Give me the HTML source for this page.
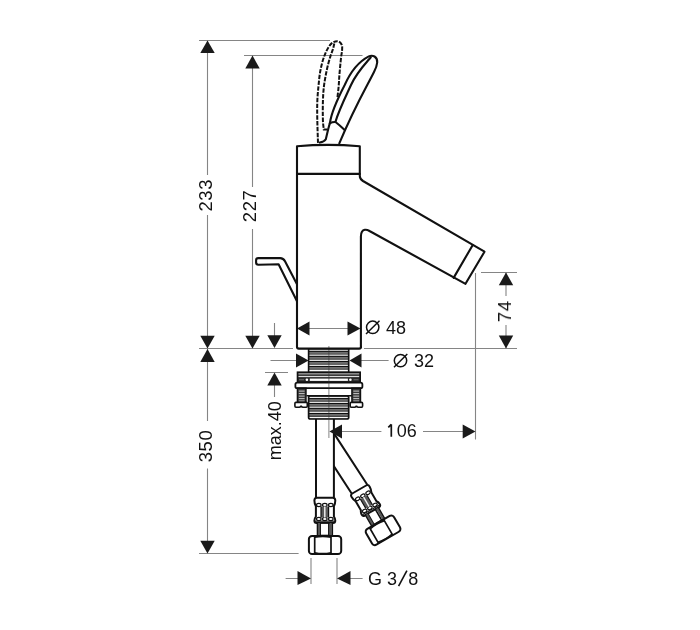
<!DOCTYPE html>
<html><head><meta charset="utf-8">
<style>
html,body{margin:0;padding:0;background:#fff;width:700px;height:630px;overflow:hidden}
svg{display:block}
text{font-family:"Liberation Sans",sans-serif;font-size:18px;fill:#111}
.tx{opacity:0.995}
.d{stroke:#858585;stroke-width:1.1;fill:none}
.o{stroke:#111;stroke-width:2.1;fill:none;stroke-linejoin:round;stroke-linecap:round}
.a{fill:#1a1a1a;stroke:none}
.ds{stroke:#111;stroke-width:2.0;fill:none;stroke-dasharray:4.4 1.4}
</style></head>
<body>
<svg width="700" height="630" viewBox="0 0 700 630">
<!-- hoses -->
<g transform="rotate(-33 325 436)"><path d="M316 436V500M333.9 436V500" stroke="#111" stroke-width="2"/></g>
<g transform="translate(359.2 489.5) rotate(-30) translate(-324.8 -497.7)">
<path d="M316.8 497.7H332.8Q335.3 497.7 335.3 500.5Q335.3 503.5 333.9 506.3V516.5Q335.3 518.5 335.3 520.5Q335.3 523 333 523H316.6Q314.4 523 314.4 520.5Q314.4 518.5 315.9 516.5V506.3Q314.4 503.5 314.4 500.5Q314.4 497.7 316.8 497.7Z" fill="#fff" stroke="#111" stroke-width="2"/>
<ellipse cx="318.8" cy="505" rx="2.3" ry="1.6" fill="#fff" stroke="#111" stroke-width="1.2"/>
<ellipse cx="318.8" cy="519" rx="2.3" ry="1.6" fill="#fff" stroke="#111" stroke-width="1.2"/>
<ellipse cx="324.8" cy="505" rx="2.3" ry="1.6" fill="#fff" stroke="#111" stroke-width="1.2"/>
<ellipse cx="324.8" cy="519" rx="2.3" ry="1.6" fill="#fff" stroke="#111" stroke-width="1.2"/>
<ellipse cx="330.8" cy="505" rx="2.3" ry="1.6" fill="#fff" stroke="#111" stroke-width="1.2"/>
<ellipse cx="330.8" cy="519" rx="2.3" ry="1.6" fill="#fff" stroke="#111" stroke-width="1.2"/>
<rect x="321" y="506.5" width="7.6" height="11" fill="#5a5a5a"/><rect x="324.1" y="506.5" width="1.4" height="11" fill="#f4f4f4"/><path d="M321 506.5V517.5M328.6 506.5V517.5" stroke="#111" stroke-width="1.2"/>
<path d="M315 521.2H334.7" stroke="#111" stroke-width="1.1"/>
<rect x="317.6" y="523" width="14.6" height="12.6" fill="#fff" stroke="#111" stroke-width="1.8"/>
<path d="M320.1 523V535.5M328.9 523V535.5" stroke="#111" stroke-width="1.7"/><rect x="318" y="523" width="2" height="12.6" fill="#555"/><rect x="329.7" y="523" width="2" height="12.6" fill="#555"/>
<rect x="308.9" y="535.9" width="32.3" height="18.2" rx="3.2" fill="#fff" stroke="#111" stroke-width="2"/>
<path d="M314.7 536V554M331 536V554" stroke="#111" stroke-width="1.7"/><path d="M314.7 537.4Q322.9 535.6 331 537.4M314.7 552.6Q322.9 554.4 331 552.6" stroke="#111" stroke-width="1.4" fill="none"/>
</g>
<g>
<rect x="316" y="419" width="17.9" height="79" fill="#fff"/>
<path d="M316 419V497.7M333.9 419V497.7" stroke="#111" stroke-width="2"/>
<path d="M316.8 497.7H332.8Q335.3 497.7 335.3 500.5Q335.3 503.5 333.9 506.3V516.5Q335.3 518.5 335.3 520.5Q335.3 523 333 523H316.6Q314.4 523 314.4 520.5Q314.4 518.5 315.9 516.5V506.3Q314.4 503.5 314.4 500.5Q314.4 497.7 316.8 497.7Z" fill="#fff" stroke="#111" stroke-width="2"/>
<ellipse cx="318.8" cy="505" rx="2.3" ry="1.6" fill="#fff" stroke="#111" stroke-width="1.2"/>
<ellipse cx="318.8" cy="519" rx="2.3" ry="1.6" fill="#fff" stroke="#111" stroke-width="1.2"/>
<ellipse cx="324.8" cy="505" rx="2.3" ry="1.6" fill="#fff" stroke="#111" stroke-width="1.2"/>
<ellipse cx="324.8" cy="519" rx="2.3" ry="1.6" fill="#fff" stroke="#111" stroke-width="1.2"/>
<ellipse cx="330.8" cy="505" rx="2.3" ry="1.6" fill="#fff" stroke="#111" stroke-width="1.2"/>
<ellipse cx="330.8" cy="519" rx="2.3" ry="1.6" fill="#fff" stroke="#111" stroke-width="1.2"/>
<rect x="321" y="506.5" width="7.6" height="11" fill="#5a5a5a"/><rect x="324.1" y="506.5" width="1.4" height="11" fill="#f4f4f4"/><path d="M321 506.5V517.5M328.6 506.5V517.5" stroke="#111" stroke-width="1.2"/>
<path d="M315 521.2H334.7" stroke="#111" stroke-width="1.1"/>
<rect x="317.6" y="523" width="14.6" height="12.6" fill="#fff" stroke="#111" stroke-width="1.8"/>
<path d="M320.1 523V535.5M328.9 523V535.5" stroke="#111" stroke-width="1.7"/><rect x="318" y="523" width="2" height="12.6" fill="#555"/><rect x="329.7" y="523" width="2" height="12.6" fill="#555"/>
<rect x="308.9" y="535.9" width="32.3" height="18.2" rx="3.2" fill="#fff" stroke="#111" stroke-width="2"/>
<path d="M314.7 536V554M331 536V554" stroke="#111" stroke-width="1.7"/><path d="M314.7 537.4Q322.9 535.6 331 537.4M314.7 552.6Q322.9 554.4 331 552.6" stroke="#111" stroke-width="1.4" fill="none"/>
</g>
<!-- thread -->
<g>
<rect x="308.6" y="348.5" width="40.1" height="23.4" fill="#6e6e6e"/>
<rect x="308.6" y="349.7" width="40.1" height="1.1" fill="#eee"/>
<rect x="308.6" y="350.9" width="40.1" height="1" fill="#111"/>
<rect x="308.6" y="353.8" width="40.1" height="0.8" fill="#333"/>
<rect x="308.6" y="354.7" width="40.1" height="1.1" fill="#eee"/>
<rect x="308.6" y="355.9" width="40.1" height="1" fill="#111"/>
<rect x="308.6" y="358.8" width="40.1" height="0.8" fill="#333"/>
<rect x="308.6" y="359.8" width="40.1" height="1.1" fill="#eee"/>
<rect x="308.6" y="361.0" width="40.1" height="1" fill="#111"/>
<rect x="308.6" y="363.90000000000003" width="40.1" height="0.8" fill="#333"/>
<rect x="308.6" y="364.8" width="40.1" height="1.1" fill="#eee"/>
<rect x="308.6" y="366.0" width="40.1" height="1" fill="#111"/>
<rect x="308.6" y="368.90000000000003" width="40.1" height="0.8" fill="#333"/>
<rect x="308.6" y="369.8" width="40.1" height="1.7" fill="#fafafa"/>
<path d="M308.6 348.5V372M348.7 348.5V372" stroke="#111" stroke-width="1.6"/>
<rect x="297.5" y="372.2" width="62.7" height="10.3" fill="#2a2a2a" stroke="#111" stroke-width="1.6"/>
<rect x="298.5" y="373" width="60.7" height="1.6" fill="#8a8a8a"/>
<rect x="298.5" y="375.9" width="60.7" height="1.2" fill="#ddd"/>
<rect x="309.8" y="378.6" width="38.1" height="2.3" fill="#fff"/>
<circle cx="306.9" cy="379.7" r="1.3" fill="#fff"/><circle cx="350.4" cy="379.7" r="1.3" fill="#fff"/>
<rect x="299" y="379.3" width="5" height="0.9" fill="#777"/><rect x="353.5" y="379.3" width="5" height="0.9" fill="#777"/>
<rect x="295.4" y="382.6" width="67" height="5.6" rx="1.8" fill="#fff" stroke="#111" stroke-width="1.8"/>
<rect x="297.4" y="388.2" width="8.6" height="14.2" fill="#3a3a3a" stroke="#111" stroke-width="1.4"/>
<rect x="298.79999999999995" y="390.6" width="5.8" height="1" fill="#c8c8c8"/>
<rect x="298.79999999999995" y="393.1" width="5.8" height="1" fill="#c8c8c8"/>
<rect x="298.79999999999995" y="395.6" width="5.8" height="1" fill="#c8c8c8"/>
<rect x="298.79999999999995" y="398.1" width="5.8" height="1" fill="#c8c8c8"/>
<rect x="298.79999999999995" y="400.5" width="5.8" height="1" fill="#c8c8c8"/>
<rect x="351.9" y="388.2" width="8.6" height="14.2" fill="#3a3a3a" stroke="#111" stroke-width="1.4"/>
<rect x="353.29999999999995" y="390.6" width="5.8" height="1" fill="#c8c8c8"/>
<rect x="353.29999999999995" y="393.1" width="5.8" height="1" fill="#c8c8c8"/>
<rect x="353.29999999999995" y="395.6" width="5.8" height="1" fill="#c8c8c8"/>
<rect x="353.29999999999995" y="398.1" width="5.8" height="1" fill="#c8c8c8"/>
<rect x="353.29999999999995" y="400.5" width="5.8" height="1" fill="#c8c8c8"/>
<path d="M306.4 395.8H351.9" stroke="#111" stroke-width="1.6"/>
<rect x="308.6" y="395.8" width="40.1" height="23.2" rx="1.5" fill="#6e6e6e"/>
<rect x="308.6" y="396.9" width="40.1" height="1.1" fill="#eee"/>
<rect x="308.6" y="398.09999999999997" width="40.1" height="1" fill="#111"/>
<rect x="308.6" y="400.9" width="40.1" height="0.8" fill="#333"/>
<rect x="308.6" y="401.8" width="40.1" height="1.1" fill="#eee"/>
<rect x="308.6" y="403.0" width="40.1" height="1" fill="#111"/>
<rect x="308.6" y="405.8" width="40.1" height="0.8" fill="#333"/>
<rect x="308.6" y="406.7" width="40.1" height="1.1" fill="#eee"/>
<rect x="308.6" y="407.9" width="40.1" height="1" fill="#111"/>
<rect x="308.6" y="410.7" width="40.1" height="0.8" fill="#333"/>
<rect x="308.6" y="411.8" width="40.1" height="1.1" fill="#eee"/>
<rect x="308.6" y="413.0" width="40.1" height="1" fill="#111"/>
<rect x="308.6" y="415.8" width="40.1" height="0.8" fill="#333"/>
<rect x="308.6" y="417" width="40.1" height="1.3" fill="#fafafa"/>
<rect x="308.6" y="395.8" width="40.1" height="23.2" rx="1.8" fill="none" stroke="#111" stroke-width="1.7"/>
<path d="M295.9 402.4H306.29999999999995Q307.29999999999995 402.4 307.29999999999995 403.6V406.1Q307.29999999999995 407.2 306.29999999999995 407.2H302.9Q301.09999999999997 407.2 301.09999999999997 405.6Q301.09999999999997 407.2 299.29999999999995 407.2H295.9Q294.9 407.2 294.9 406.1V403.6Q294.9 402.4 295.9 402.4Z" fill="#fff" stroke="#111" stroke-width="1.6"/>
<path d="M351.2 402.4H361.59999999999997Q362.59999999999997 402.4 362.59999999999997 403.6V406.1Q362.59999999999997 407.2 361.59999999999997 407.2H358.2Q356.4 407.2 356.4 405.6Q356.4 407.2 354.59999999999997 407.2H351.2Q350.2 407.2 350.2 406.1V403.6Q350.2 402.4 351.2 402.4Z" fill="#fff" stroke="#111" stroke-width="1.6"/>

</g>
<path d="M328.9 346V438" stroke="#333" stroke-width="0.8" opacity="0.75"/>
<!-- dimension lines -->
<g class="d">
<path d="M199 40.5H330M244 55.5H362.5"/>
<path d="M207.5 41V175M207.5 215V348.5"/>
<path d="M252.5 56V187M252.5 229V348.5"/>
<path d="M199 348.5H293M364 348.5H517"/>
<path d="M481 272.5H517M506 272.5V296M506 325V348.5"/>
<path d="M475.5 273V439.5"/>
<path d="M274.5 323V336M265 372.5H288M274.5 385V397"/>
<path d="M309 328.5H348"/>
<path d="M270.5 360.5H297M361 360.5H388.6"/>
<path d="M342 431.5H381.4M423 431.5H463"/>
<path d="M207.5 349V421M207.5 468.5V541M199 553.5H298.6"/>
<path d="M311 558V584M337 558V584M285.6 578.5H298M350 578.5H362.6"/>
</g>
<!-- arrows -->
<g class="a">
<path d="M207.5 40.5L200.3 53L214.7 53Z"/>
<path d="M252.5 55.5L245.3 68.5L259.7 68.5Z"/>
<path d="M207.5 348.5L200.3 335.7L214.7 335.7Z"/>
<path d="M252.5 348.5L245.3 335.7L259.7 335.7Z"/>
<path d="M274.5 348L267.3 335.2L281.7 335.2Z"/>
<path d="M207.5 349L200.3 362L214.7 362Z"/>
<path d="M274.5 372.5L267.3 385.5L281.7 385.5Z"/>
<path d="M506 272.5L498.8 285.2L513.2 285.2Z"/>
<path d="M506 348.5L498.8 335.5L513.2 335.5Z"/>
<path d="M297 328.5L309.5 321.5L309.5 335.5Z"/>
<path d="M360.5 328.5L347.5 321.5L347.5 335.5Z"/>
<path d="M308.6 360.5L296 353.5L296 367.5Z"/>
<path d="M349.5 360.5L361.5 353.5L361.5 367.5Z"/>
<path d="M329.4 431.5L342 424.5L342 438.5Z"/>
<path d="M475.5 431.5L462.7 424.5L462.7 438.5Z"/>
<path d="M207.5 553.5L200.3 540.8L214.7 540.8Z"/>
<path d="M311 578.5L297.5 571L297.5 585Z"/>
<path d="M337 578.5L350.5 571L350.5 585Z"/>
</g>
<!-- text -->
<g class="tx">
<text transform="translate(212.2 195.2) rotate(-90)" text-anchor="middle" style="font-size:18.5px;letter-spacing:0.6px">233</text>
<text transform="translate(256 205.9) rotate(-90)" text-anchor="middle" style="font-size:18.5px;letter-spacing:0.6px">227</text>
<text transform="translate(511 311.2) rotate(-90)" text-anchor="middle" style="font-size:18.5px;letter-spacing:0.6px">74</text>
<text transform="translate(212.4 446) rotate(-90)" text-anchor="middle" style="font-size:18.5px;letter-spacing:0.6px">350</text>
<text transform="translate(281.1 430.8) rotate(-90)" text-anchor="middle">max.40</text>
<text x="396.8" y="436.8">06</text><path d="M391.3 424.3V436.8M388.3 427.4L391.3 424.3" stroke="#111" stroke-width="1.7" fill="none"/>
<text x="386" y="334">48</text>
<text x="414" y="367">32</text>
<text x="368" y="585">G 3</text><text x="408.3" y="585">8</text><path d="M398.6 586.2L406.9 570.6" stroke="#111" stroke-width="1.6"/>
</g>
<g stroke="#111" stroke-width="1.5" fill="none">
<circle cx="372.7" cy="327.3" r="6.2"/><path d="M366 334L379.5 320.7"/>
<circle cx="400.5" cy="360.6" r="6.2"/><path d="M394 367.3L407.3 354"/>
</g>
<!-- dashed handle -->
<path class="ds" d="M318.00 142.90C317.88 139.08 317.42 126.87 317.30 120.00C317.18 113.13 317.10 107.38 317.30 101.70C317.50 96.02 317.97 91.18 318.50 85.90C319.03 80.62 319.48 75.10 320.50 70.00C321.52 64.90 322.93 59.55 324.60 55.30C326.27 51.05 328.38 46.85 330.50 44.50C332.62 42.15 335.45 41.20 337.30 41.20C339.15 41.20 340.80 43.03 341.60 44.50C342.40 45.970 342.20 47.75 342.10 50.00C342.00 52.25 341.45 53.83 341.00 58.00C340.55 62.17 339.78 70.35 339.40 75.00C339.02 79.65 339.02 82.23 338.70 85.90C338.38 89.57 337.70 95.15 337.50 97.00"/>
<path class="ds" d="M334.30 43.40C334.08 44.33 333.67 46.80 333.00 49.00C332.33 51.20 331.33 53.10 330.30 56.60C329.27 60.10 327.85 65.12 326.80 70.00C325.75 74.88 324.65 80.62 324.00 85.90C323.35 91.18 323.08 96.02 322.90 101.70C322.72 107.38 322.75 115.38 322.90 120.00C323.05 124.62 323.650 127.83 323.80 129.40L327.4 129.4"/>
<!-- solid handle -->
<path class="o" style="fill:#fff" d="M319.8 142.6Q324.5 141.5 325.8 139.2L328.3 128.7L330 122.6C331.5 112 338.5 97 344.7 85C350.5 72 358 62 368.8 56.4C372.5 54.6 377.6 56.5 377.2 62.5C377 65 376 68 374 72C366 88 355.5 105 339.3 143.3"/>
<path class="o" d="M370.8 57.2C365 64 356 73.5 351 85C346 96 339 110 335.4 122"/>
<path class="o" d="M329.8 123.3Q332.5 121.8 335.5 122Q340 125.5 344.4 129.7"/>
<!-- body -->
<path class="o" d="M297 347V146.3Q328 143.5 359.8 146.3V176Q359.8 179 363 181L484.5 251.7L465.5 283.8L369.5 231Q366.8 229.4 364.8 229.8Q360.9 230.6 360.9 236.5V347"/>
<path class="o" d="M297 173.9H359.8M472.6 245.2L453.6 277.9"/>
<path class="o" d="M297 346.8Q297 348.6 298.8 348.6H359.2Q361 348.6 361 346.8"/>
<!-- lever -->
<path class="o" d="M297 284.3L285 261.3Q283.4 258.1 280.2 258.1H258.3Q256.1 258.1 256.1 260.3V262.6Q256.1 264.8 258.3 264.8Q270 264.3 278.6 264.3L297 301.2"/>
</svg>
</body></html>
